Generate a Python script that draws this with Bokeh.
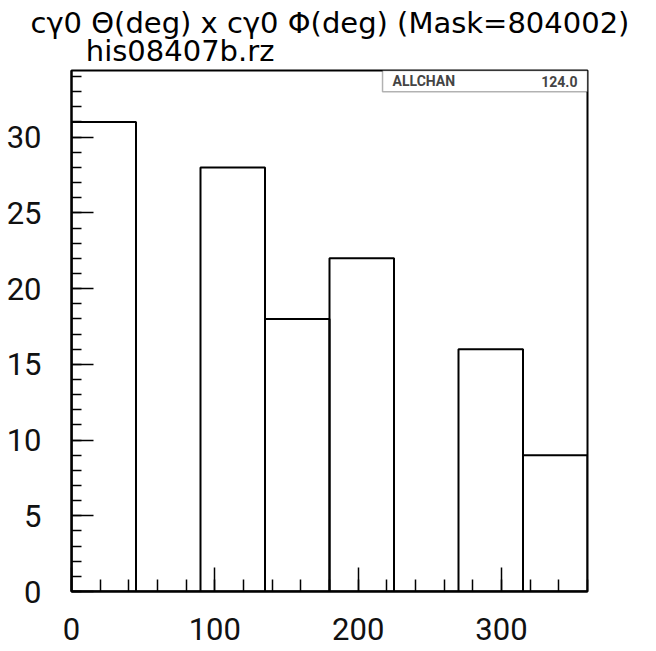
from bokeh.plotting import figure
from bokeh.models import FixedTicker, BoxAnnotation, Label, Range1d, Title
from bokeh.embed import file_html
from bokeh.resources import INLINE

# data
bin_left = [0, 45, 90, 135, 180, 225, 270, 315]
bin_right = [45, 90, 135, 180, 225, 270, 315, 360]
counts = [31, 0, 28, 18, 22, 0, 16, 9]
x_major = [0, 100, 200, 300]
x_minor = list(range(0, 361, 20))
y_major = [0, 5, 10, 15, 20, 25, 30]
y_minor = list(range(0, 35, 1))
title1 = "cγ0 Θ(deg) x cγ0 Φ(deg) (Mask=804002)"
title2 = "his08407b.rz"
stat_name = "ALLCHAN"
total = float(sum(counts))

FONT = "Roboto"
TFONT = "DejaVu Sans"

p = figure(width=656, height=651, output_backend="svg", toolbar_location=None,
           x_range=Range1d(0, 360), y_range=Range1d(0, 34.4),
           min_border_left=71, min_border_right=69, min_border_top=70, min_border_bottom=60)
p.title = None
p.grid.visible = False
p.background_fill_color = "white"
p.border_fill_color = "white"
p.outline_line_color = "black"
p.outline_line_width = 2

p.quad(left=bin_left, right=bin_right, bottom=0, top=counts,
       fill_color=None, line_color="black", line_width=2)

for ax in (p.xaxis[0], p.yaxis[0]):
    ax.axis_line_width = 2
    ax.major_tick_out = 0
    ax.minor_tick_out = 0
    ax.major_tick_line_width = 1.5
    ax.minor_tick_line_width = 1.5
    ax.major_label_text_font = FONT
    ax.major_label_text_font_size = "31px"
    ax.major_label_text_color = "#111111"

p.xaxis[0].ticker = FixedTicker(ticks=x_major, minor_ticks=x_minor)
p.yaxis[0].ticker = FixedTicker(ticks=y_major, minor_ticks=y_minor)
p.xaxis[0].major_tick_in = 24
p.xaxis[0].minor_tick_in = 12
p.yaxis[0].major_tick_in = 22
p.yaxis[0].minor_tick_in = 10
p.xaxis[0].major_label_standoff = 26
p.yaxis[0].major_label_standoff = 30

# stats box
box = BoxAnnotation(left=217, right=360, bottom=33.0, top=34.4,
                    fill_color="white", fill_alpha=1.0,
                    line_color="black", line_width=1.5)
p.add_layout(box)
p.add_layout(Label(x=224, y=33.7, text=stat_name, text_font=FONT,
                   text_font_size="14px", text_font_style="bold",
                   text_baseline="middle", text_align="left"))
p.add_layout(Label(x=353, y=33.7, text=f"{total:.1f}", text_font=FONT,
                   text_font_size="14px", text_font_style="bold",
                   text_baseline="middle", text_align="right"))

# two-line title block
title_text = title1 + "\n" + "\u00a0" * 6 + title2
p.add_layout(Title(text=title_text, align="left", offset=-41, standoff=4,
                   text_font=TFONT, text_font_size="29px", text_color="black",
                   text_line_height=0.83, text_font_style="normal"), "above")

open("out.html", "w").write(file_html(p, INLINE))
